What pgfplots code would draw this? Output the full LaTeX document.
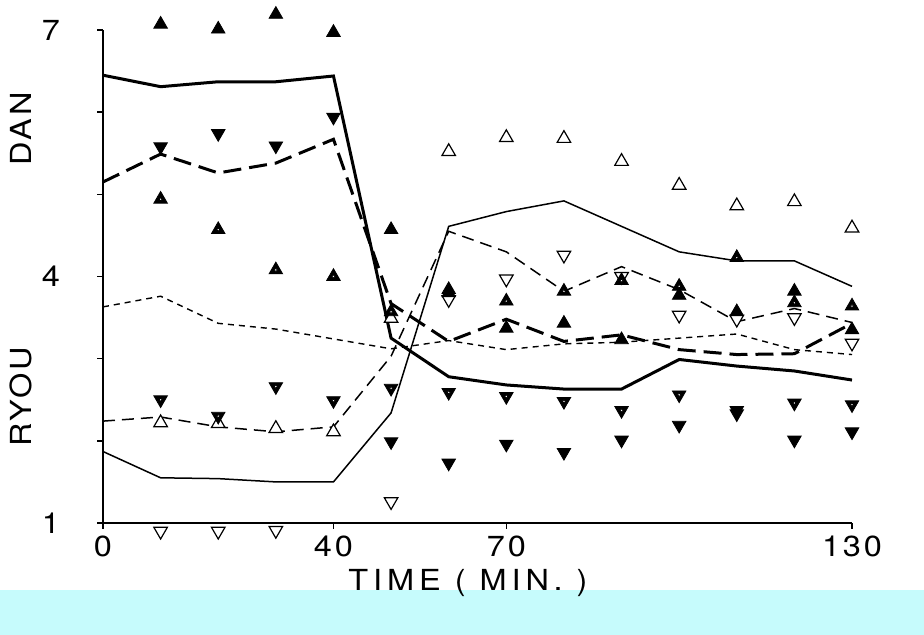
\documentclass[border=0pt]{standalone}
\usepackage{fontspec}
\usepackage{pgfplots}
\pgfplotsset{compat=1.18}
\newfontfamily\lab{TeX Gyre Heros}[FakeStretch=1.12,LetterSpace=10]
\newfontfamily\labwide{TeX Gyre Heros}[FakeStretch=1.12,LetterSpace=17]
\newcommand{\labfont}{\lab\fontsize{14.5}{16}\selectfont}
\definecolor{band}{RGB}{198,251,252}

% mean curves
\pgfplotstableread{
t  dan   dand  ryou  ryoud  ref
0  6.45  5.15  1.87  2.24   3.63
10 6.31  5.49  1.55  2.29   3.76
20 6.37  5.26  1.54  2.17   3.43
30 6.37  5.38  1.50  2.11   3.36
40 6.44  5.67  1.50  2.17   3.24
50 3.25  3.67  2.34  3.03   3.12
60 2.78  3.21  4.61  4.55   3.22
70 2.68  3.48  4.79  4.30   3.11
80 2.63  3.21  4.92  3.82   3.18
90 2.63  3.29  4.61  4.12   3.20
100 2.99 3.11  4.30  3.84   3.25
110 2.91 3.05  4.19  3.45   3.30
120 2.85 3.06  4.19  3.61   3.11
130 2.74 3.43  3.88  3.44   3.05
}\curves

\begin{document}
\begin{tikzpicture}
\useasboundingbox (0pt,0pt) rectangle (462pt,317.5pt);
\fill[band] (0pt,0pt) rectangle (462pt,22.5pt);
\begin{axis}[
  at={(51.5pt,56pt)}, anchor=south west,
  scale only axis, width=374.5pt, height=246.5pt,
  xmin=0, xmax=130, ymin=1, ymax=7,
  axis x line*=bottom, axis y line*=left,
  clip=false,
  xtick={0,40,70,130}, xticklabels={0,40,70,130},
  ytick={1,2,3,4,5,6,7}, yticklabels={1,,,4,,,7},
  tick align=outside, major tick length=3pt,
  tick style={line width=0.8pt, black},
  axis line style={line width=0.8pt, black},
  ticklabel style={font=\labfont},
  xticklabel style={yshift=0pt},
  yticklabel style={xshift=-15pt},
  mark size=3.9pt,
]
% curves
\addplot[black, line width=1.5pt, no marks] table[x=t, y=dan] {\curves};
\addplot[black, line width=1.5pt, no marks, dash pattern=on 9pt off 4pt] table[x=t, y=dand] {\curves};
\addplot[black, line width=0.75pt, no marks] table[x=t, y=ryou] {\curves};
\addplot[black, line width=0.75pt, no marks, dash pattern=on 6pt off 3.5pt] table[x=t, y=ryoud] {\curves};
\addplot[black, line width=0.7pt, no marks, dash pattern=on 3pt off 2.5pt] table[x=t, y=ref] {\curves};

% open up triangles
\addplot[only marks, mark=triangle*, mark options={fill=white, draw=black, line width=0.6pt}] coordinates {
 (10,2.22) (20,2.21) (30,2.15) (40,2.11) (50,3.49) (60,5.52) (70,5.69) (80,5.68)
 (90,5.40) (100,5.11) (110,4.86) (120,4.91) (130,4.59)};
% open down triangles
\addplot[only marks, mark=triangle*, mark options={rotate=180, fill=white, draw=black, line width=0.6pt}] coordinates {
 (10,0.90) (20,0.90) (30,0.91) (50,1.26) (60,3.72) (70,3.97) (80,4.26)
 (90,4.00) (100,3.53) (110,3.48) (120,3.50) (130,3.19)};
% filled up triangles
\addplot[only marks, mark=triangle*, mark options={fill=black, draw=black}] coordinates {
 (10,7.07) (20,7.01) (30,7.19) (40,6.97) (50,4.57) (60,3.84) (70,3.37) (80,3.43)
 (90,3.23) (100,3.77) (110,3.57) (120,3.82) (130,3.35)};
% filled up triangles, dotted centre
\addplot[only marks, mark=triangle*, mark options={fill=black, draw=black}] coordinates {
 (10,4.94) (20,4.57) (30,4.08) (40,4.00) (50,3.57) (60,3.80) (70,3.70) (80,3.82)
 (90,3.95) (100,3.88) (110,4.23) (120,3.68) (130,3.64)};
\addplot[only marks, mark=*, mark size=0.8pt, mark options={fill=white, draw=none}] coordinates {
 (10,4.94) (20,4.57) (30,4.08) (40,4.00) (50,3.57) (70,3.70) (80,3.82)
 (90,3.95) (100,3.88) (110,4.23) (120,3.68) (130,3.64)};
% filled down triangles
\addplot[only marks, mark=triangle*, mark options={rotate=180, fill=black, draw=black}] coordinates {
 (10,5.58) (20,5.74) (30,5.59) (40,5.94) (50,1.99) (60,1.73) (70,1.96) (80,1.86)
 (90,2.01) (100,2.19) (110,2.33) (120,2.01) (130,2.11)};
% filled down triangles, dotted centre
\addplot[only marks, mark=triangle*, mark options={rotate=180, fill=black, draw=black}] coordinates {
 (10,2.50) (20,2.30) (30,2.66) (40,2.49) (50,2.64) (60,2.59) (70,2.54) (80,2.48)
 (90,2.37) (100,2.56) (110,2.37) (120,2.46) (130,2.44)};
\addplot[only marks, mark=*, mark size=0.8pt, mark options={fill=white, draw=none}] coordinates {
 (10,2.50) (20,2.30) (30,2.66) (40,2.49) (50,2.64) (60,2.59) (70,2.54) (80,2.48)
 (90,2.37) (100,2.56) (120,2.46) (130,2.44)};
\end{axis}
\node[rotate=90, font=\labfont] at (10.5pt,253pt) {DAN};
\node[rotate=90, font=\labfont] at (10.5pt,119pt) {RYOU};
\node[font=\labwide\fontsize{14.5}{16}\selectfont] at (234pt,26pt) {TIME ( MIN. )};
\end{tikzpicture}
\end{document}
